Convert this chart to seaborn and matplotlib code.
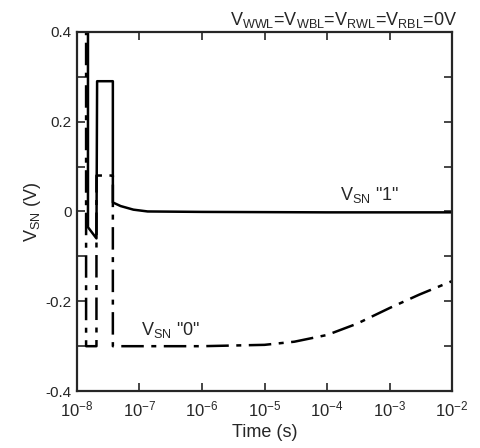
import numpy as np
import pandas as pd
import matplotlib
matplotlib.use("Agg")
import matplotlib.pyplot as plt
import seaborn as sns

# Dados: tempo (s) e tensão do nó de armazenamento (V)
t_one = [1e-8, 1.5e-8, 1.5e-8, 2.05e-8, 2.1e-8, 3.75e-8, 3.75e-8, 5e-8, 8e-8, 1.35e-7, 1e-6, 1e-4, 1e-2]
v_one = [0.45, 0.45, -0.035, -0.06, 0.29, 0.29, 0.02, 0.012, 0.004, 0.0, -0.001, -0.002, -0.002]

t_zero = [1e-8, 1.4e-8, 1.4e-8, 2.05e-8, 2.05e-8, 3.75e-8, 3.75e-8, 1e-7, 1e-6, 1e-5, 3e-5, 1e-4, 3e-4, 1e-3, 3e-3, 1e-2]
v_zero = [0.45, 0.45, -0.30, -0.30, 0.08, 0.08, -0.30, -0.30, -0.30, -0.297, -0.29, -0.275, -0.25, -0.215, -0.185, -0.155]

x_ticks = [1e-8, 1e-7, 1e-6, 1e-5, 1e-4, 1e-3, 1e-2]
y_ticks = [-0.4, -0.2, 0, 0.2, 0.4]
y_tick_labels = ["-0.4", "-0.2", "0", "0.2", "0.4"]

sns.set_style("ticks")
plt.rcParams["font.family"] = ["Liberation Sans", "DejaVu Sans"]
plt.rcParams["mathtext.fontset"] = "custom"
plt.rcParams["mathtext.rm"] = "Liberation Sans"
plt.rcParams["mathtext.it"] = "Liberation Sans"

fig = plt.figure(figsize=(4.81, 4.48), dpi=100)
ax = fig.add_axes([0.160, 0.127, 0.780, 0.802])

df_one = pd.DataFrame({"t": t_one, "v": v_one})
df_zero = pd.DataFrame({"t": t_zero, "v": v_zero})

sns.lineplot(data=df_zero, x="t", y="v", ax=ax, estimator=None, sort=False,
             color="black", linewidth=1.8)
ax.lines[-1].set_dashes([9, 3, 2, 3])
sns.lineplot(data=df_one, x="t", y="v", ax=ax, estimator=None, sort=False,
             color="black", linewidth=1.8)

ax.set_xscale("log")
ax.set_xlim(1e-8, 1e-2)
ax.set_ylim(-0.4, 0.4)
ax.set_xticks(x_ticks)
ax.xaxis.set_minor_locator(matplotlib.ticker.NullLocator())
ax.set_yticks(y_ticks)
ax.set_yticklabels(y_tick_labels)
ax.set_yticks(np.arange(-0.4, 0.41, 0.1), minor=True)
ax.tick_params(which="both", direction="in", top=True, right=True, width=1.2, length=6)
ax.tick_params(axis="y", labelsize=11, pad=4)
ax.tick_params(axis="x", labelsize=12, pad=6)
for s in ax.spines.values():
    s.set_linewidth(1.6)

ax.set_xlabel("Time (s)", fontsize=13, labelpad=3)
ax.set_ylabel(r"V$_{\mathregular{SN}}$ (V)", fontsize=13, labelpad=2)

ax.text(0.71, 1.005, r"V$_{\mathregular{WWL}}$=V$_{\mathregular{WBL}}$=V$_{\mathregular{RWL}}$=V$_{\mathregular{RBL}}$=0V",
        transform=ax.transAxes, ha="center", va="bottom", fontsize=13)
ax.text(0.78, 0.545, r'V$_{\mathregular{SN}}$ "1"', transform=ax.transAxes, ha="center", va="center", fontsize=13)
ax.text(0.25, 0.17, r'V$_{\mathregular{SN}}$ "0"', transform=ax.transAxes, ha="center", va="center", fontsize=13)

fig.savefig("out.png", dpi=100)
